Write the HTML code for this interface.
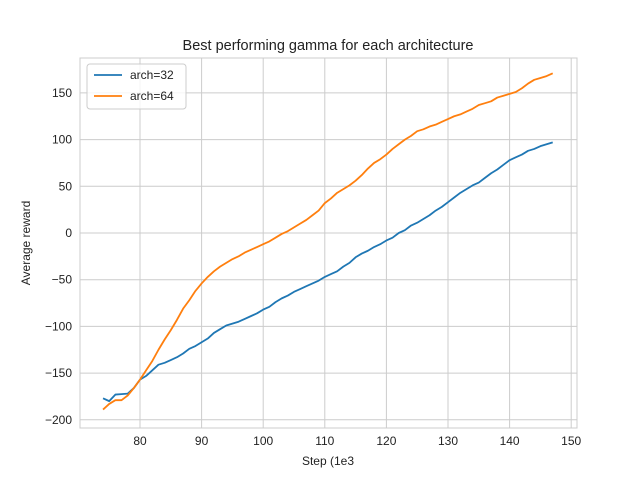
<!DOCTYPE html>
<html><head><meta charset="utf-8"><style>
body{margin:0;background:#fff;}
svg{font-family:"Liberation Sans",Arial,sans-serif;}
</style></head><body>
<svg id="chart" width="640" height="480">
<rect width="640" height="480" fill="#fff"/>
<g id="grid"></g>
<g id="ticks"></g>
<g id="lines"></g>
<rect x="80" y="58" width="497" height="370" fill="none" stroke="#ccc" stroke-width="1"/>
<text x="328" y="50" text-anchor="middle" font-size="14.5" fill="#222">Best performing gamma for each architecture</text>
<text x="328" y="465" text-anchor="middle" font-size="12" fill="#222">Step (1e3</text>
<text transform="translate(30,243) rotate(-90)" text-anchor="middle" font-size="12" fill="#222">Average reward</text>
<g>
<rect x="87" y="64" width="99" height="45" rx="3" fill="#fff" fill-opacity="0.8" stroke="#ccc"/>
<line x1="94" y1="75" x2="122" y2="75" stroke="#1f77b4" stroke-width="1.8"/>
<text x="130" y="79" font-size="12" fill="#222">arch=32</text>
<line x1="94" y1="96" x2="122" y2="96" stroke="#ff7f0e" stroke-width="1.8"/>
<text x="130" y="100" font-size="12" fill="#222">arch=64</text>
</g>
</svg>
<script>
const steps=[];for(let s=74;s<=147;s++)steps.push(s);
const arch32=[-177,-180,-173,-172.5,-172,-166,-157,-153,-147,-141,-139,-136,-133,-129,-124,-121,-117,-113,-107,-103,-99,-97,-95,-92,-89,-86,-82,-79,-74,-70,-67,-63,-60,-57,-54,-51,-47,-44,-41,-36,-32,-26,-22,-19,-15,-12,-8,-5,0,3,8,11,15,19,24,28,33,38,43,47,51,54,59,64,68,73,78,81,84,88,90,93,95,97];
const arch64=[-189,-183,-179,-179,-174,-166,-157,-147,-137,-125,-114,-104,-93,-81,-72,-62,-54,-47,-41,-36,-32,-28,-25,-21,-18,-15,-12,-9,-5,-1,2,6,10,14,19,24,32,37,43,47,51,56,62,69,75,79,84,90,95,100,104,109,111,114,116,119,122,125,127,130,133,137,139,141,145,147,149,151,155,160,164,166,168,171];
const xTicks=[80,90,100,110,120,130,140,150];
const yTicks=[-200,-150,-100,-50,0,50,100,150];
const X=v=>140+(v-80)*6.16;
const Y=v=>233-v*46.7/50;
const NS='http://www.w3.org/2000/svg';
const grid=document.getElementById('grid'),ticks=document.getElementById('ticks'),lines=document.getElementById('lines');
function mk(tag,attrs,parent){const e=document.createElementNS(NS,tag);for(const k in attrs)e.setAttribute(k,attrs[k]);parent.appendChild(e);return e;}
xTicks.forEach(t=>{
 const l=mk('line',{x1:X(t),x2:X(t),y1:58,y2:428,stroke:'#ccc','stroke-width':1},grid);
 
 
 const tx=mk('text',{x:X(t),y:445,'text-anchor':'middle','font-size':12,fill:'#222'},ticks);
 tx.textContent=t;
 
 
});
yTicks.forEach(t=>{
 const l=mk('line',{x1:80,x2:577,y1:Y(t),y2:Y(t),stroke:'#ccc','stroke-width':1},grid);
 
 
 const tx=mk('text',{x:72,y:Y(t)+4,'text-anchor':'end','font-size':12,fill:'#222'},ticks);
 tx.textContent=t<0?'\u2212'+(-t):t;
 
 
});
[[arch32,'#1f77b4','series-arch32'],[arch64,'#ff7f0e','series-arch64']].forEach(([d,c,n])=>{
 const p=mk('polyline',{points:d.map((v,i)=>X(steps[i])+','+Y(v)).join(' '),fill:'none',stroke:c,'stroke-width':1.8,'stroke-linejoin':'round'},lines);
 
 
});
</script>
</body></html>
